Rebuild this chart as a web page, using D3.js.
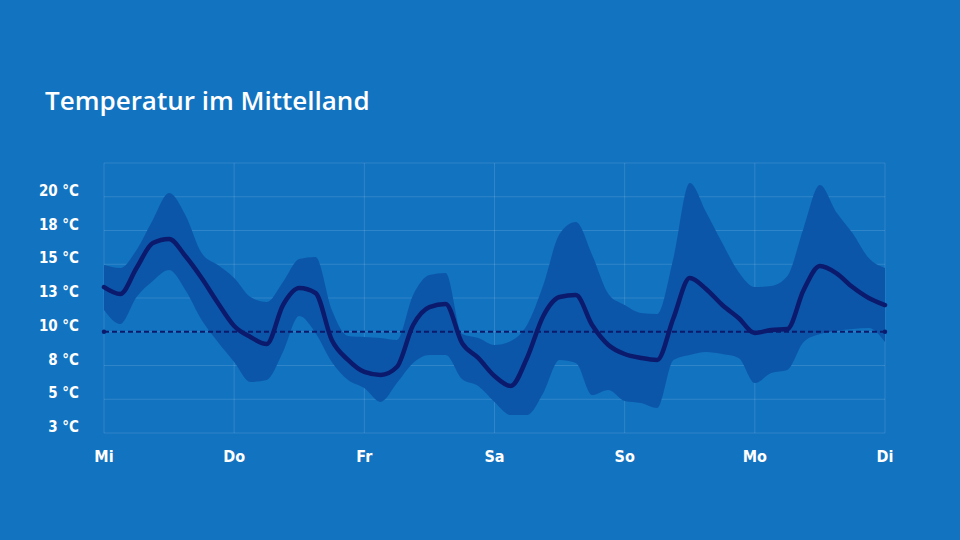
<!DOCTYPE html>
<html>
<head>
<meta charset="utf-8">
<script src="https://cdn.jsdelivr.net/npm/d3@7"></script>
<style>
  html, body { margin: 0; padding: 0; background: #1273c0; }
  svg { display: block; }
</style>
</head>
<body>
<svg id="chart" width="960" height="540"></svg>
<script>
// ---- Data (hours from Wednesday 00:00, every 3 h) ----
const hours = d3.range(0, 145, 3);
const meanTemp = [13.31, 12.80, 14.72, 16.57, 16.87, 15.61, 13.98, 12.13, 10.43, 9.61,
                  9.09, 11.98, 13.24, 12.87, 9.39, 7.91, 7.02, 6.80, 7.39, 10.50,
                  11.83, 12.06, 9.17, 8.06, 6.72, 5.98, 8.06, 11.17, 12.57, 12.72,
                  10.50, 9.02, 8.35, 8.06, 7.91, 11.02, 13.98, 13.17, 11.98, 11.02,
                  9.91, 10.13, 10.20, 13.09, 14.87, 14.35, 13.31, 12.50, 11.98];
const upperTemp = [14.94, 14.72, 16.06, 18.28, 20.28, 18.65, 15.83, 14.94, 13.98, 12.57,
                   12.20, 13.69, 15.39, 15.54, 11.61, 9.69, 9.61, 9.54, 9.39, 12.72,
                   14.20, 14.35, 9.83, 9.54, 9.02, 9.31, 10.50, 13.46, 17.24, 18.13,
                   15.69, 12.80, 11.98, 11.39, 11.31, 15.46, 21.02, 18.87, 16.57, 14.43,
                   13.31, 13.39, 14.13, 17.69, 20.87, 18.87, 17.31, 15.46, 14.72];
const lowerTemp = [11.61, 10.57, 12.57, 13.76, 14.57, 13.09, 10.87, 9.24, 7.76, 6.28,
                   6.43, 8.50, 11.17, 9.91, 7.76, 6.43, 5.83, 4.80, 6.20, 7.69,
                   8.28, 8.28, 6.50, 5.98, 4.80, 3.83, 3.83, 5.46, 7.91, 7.69,
                   5.31, 5.69, 4.87, 4.72, 4.35, 7.91, 8.28, 8.50, 8.35, 8.06,
                   6.20, 6.94, 7.17, 9.24, 9.83, 10.06, 10.20, 10.28, 9.24];
const normTemp = 10;
const dayLabels = ["Mi", "Do", "Fr", "Sa", "So", "Mo", "Di"];
const dayHours = [0, 24, 48, 72, 96, 120, 144];
const yTicks = [20, 17.5, 15, 12.5, 10, 7.5, 5, 2.5];
const yTickLabels = ["20 °C", "18 °C", "15 °C", "13 °C", "10 °C", "8 °C", "5 °C", "3 °C"];
const title = "Temperatur im Mittelland";

// ---- Layout ----
const svg = d3.select("#chart");
const C = { bg: "#1273c0", band: "#0c56a9", line: "#0b1a6c", grid: "rgba(255,255,255,0.13)", text: "#ffffff" };
svg.append("rect").attr("width", 960).attr("height", 540).attr("fill", C.bg);

const x = d3.scaleLinear().domain([0, 144]).range([104, 885]);
const y = d3.scaleLinear().domain([2.5, 22.5]).range([433, 163]);

// title
svg.append("text")
  .attr("x", 45).attr("y", 110)
  .attr("fill", C.text)
  .style("font-family", "'Open Sans', sans-serif")
  .style("font-weight", 600)
  .style("font-size", "26px")
  .text(title);

// grid
const grid = svg.append("g");
grid.selectAll("line.h").data(d3.range(2.5, 22.6, 2.5)).join("line")
  .attr("x1", x(0)).attr("x2", x(144))
  .attr("y1", d => y(d)).attr("y2", d => y(d))
  .attr("stroke", C.grid).attr("stroke-width", 1);
grid.selectAll("line.v").data(dayHours).join("line")
  .attr("x1", d => x(d)).attr("x2", d => x(d))
  .attr("y1", y(2.5)).attr("y2", y(22.5))
  .attr("stroke", C.grid).attr("stroke-width", 1);

const series = hours.map((h, i) => ({ h, m: meanTemp[i], lo: lowerTemp[i], hi: upperTemp[i] }));
const curve = d3.curveMonotoneX;

// band
svg.append("path").datum(series)
  .attr("fill", C.band)
  .attr("d", d3.area().x(d => x(d.h)).y0(d => y(d.lo)).y1(d => y(d.hi)).curve(curve));

// norm dashed line
svg.append("line")
  .attr("x1", x(0)).attr("x2", x(144))
  .attr("y1", y(normTemp)).attr("y2", y(normTemp))
  .attr("stroke", C.line).attr("stroke-width", 2)
  .attr("stroke-dasharray", "5,3");
svg.selectAll("circle.end").data([0, 144]).join("circle")
  .attr("cx", d => x(d)).attr("cy", y(normTemp)).attr("r", 2.2)
  .attr("fill", C.line);

// mean line
svg.append("path").datum(series)
  .attr("fill", "none")
  .attr("stroke", C.line).attr("stroke-width", 4.5)
  .attr("stroke-linejoin", "round").attr("stroke-linecap", "round")
  .attr("d", d3.line().x(d => x(d.h)).y(d => y(d.m)).curve(curve));

// y labels
svg.append("g").selectAll("text").data(yTicks).join("text")
  .attr("x", 79).attr("y", d => y(d) - 1)
  .attr("text-anchor", "end")
  .attr("fill", C.text)
  .style("font-family", "'DejaVu Sans Condensed', 'DejaVu Sans', sans-serif")
  .style("font-weight", "bold")
  .style("font-size", "15px")
  .text((d, i) => yTickLabels[i]);

// x labels
svg.append("g").selectAll("text").data(dayHours).join("text")
  .attr("x", d => x(d)).attr("y", 462)
  .attr("text-anchor", "middle")
  .attr("fill", C.text)
  .style("font-family", "'DejaVu Sans Condensed', 'DejaVu Sans', sans-serif")
  .style("font-weight", "bold")
  .style("font-size", "16px")
  .text((d, i) => dayLabels[i]);
</script>
</body>
</html>
